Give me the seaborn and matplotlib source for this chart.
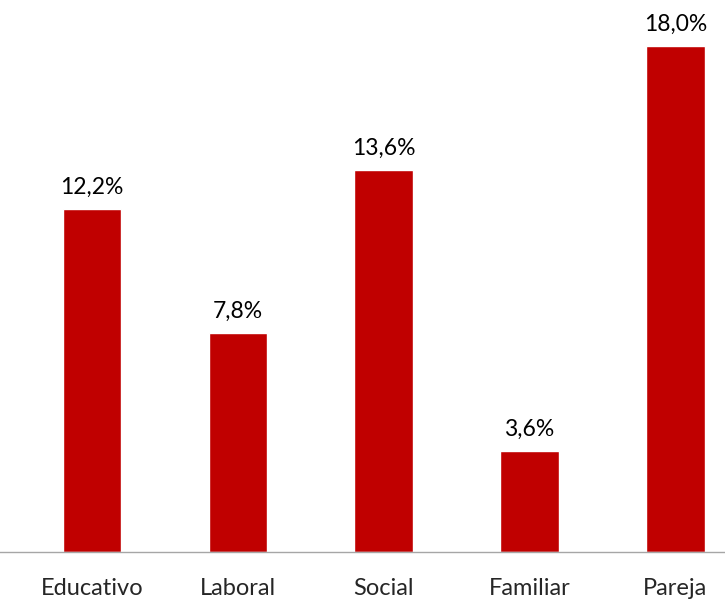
import pandas as pd
import matplotlib.pyplot as plt
import seaborn as sns

# chart values
categorias = ['Educativo', 'Laboral', 'Social', 'Familiar', 'Pareja']
porcentajes = [12.2, 7.8, 13.6, 3.6, 18.0]
etiquetas = ['12,2%', '7,8%', '13,6%', '3,6%', '18,0%']

df = pd.DataFrame({'cat': categorias, 'pct': porcentajes})

sns.set_style('white')
plt.rcParams['font.family'] = ['Lato', 'DejaVu Sans']

fig = plt.figure(figsize=(7.25, 6.03), dpi=100)
ax = fig.add_axes([0, 51 / 603, 1, 552 / 603])

sns.barplot(data=df, x='cat', y='pct', color='#C00000', width=0.4,
            saturation=1, ax=ax)

# value labels above each bar
for i, (v, lab) in enumerate(zip(porcentajes, etiquetas)):
    ax.annotate(lab, (i, v), xytext=(0, 8), textcoords='offset points',
                ha='center', va='bottom', fontsize=16.5, color='black')

ax.set_xlim(-0.63, 4.34)
ax.set_ylim(0, 19.64)
ax.set_xlabel('')
ax.set_ylabel('')
ax.set_yticks([])
ax.tick_params(axis='x', length=0, pad=19, labelsize=17)
for s in ['top', 'right', 'left']:
    ax.spines[s].set_visible(False)
ax.spines['bottom'].set_color('#A6A6A6')
ax.spines['bottom'].set_linewidth(1)

fig.savefig('out.png', dpi=100)
